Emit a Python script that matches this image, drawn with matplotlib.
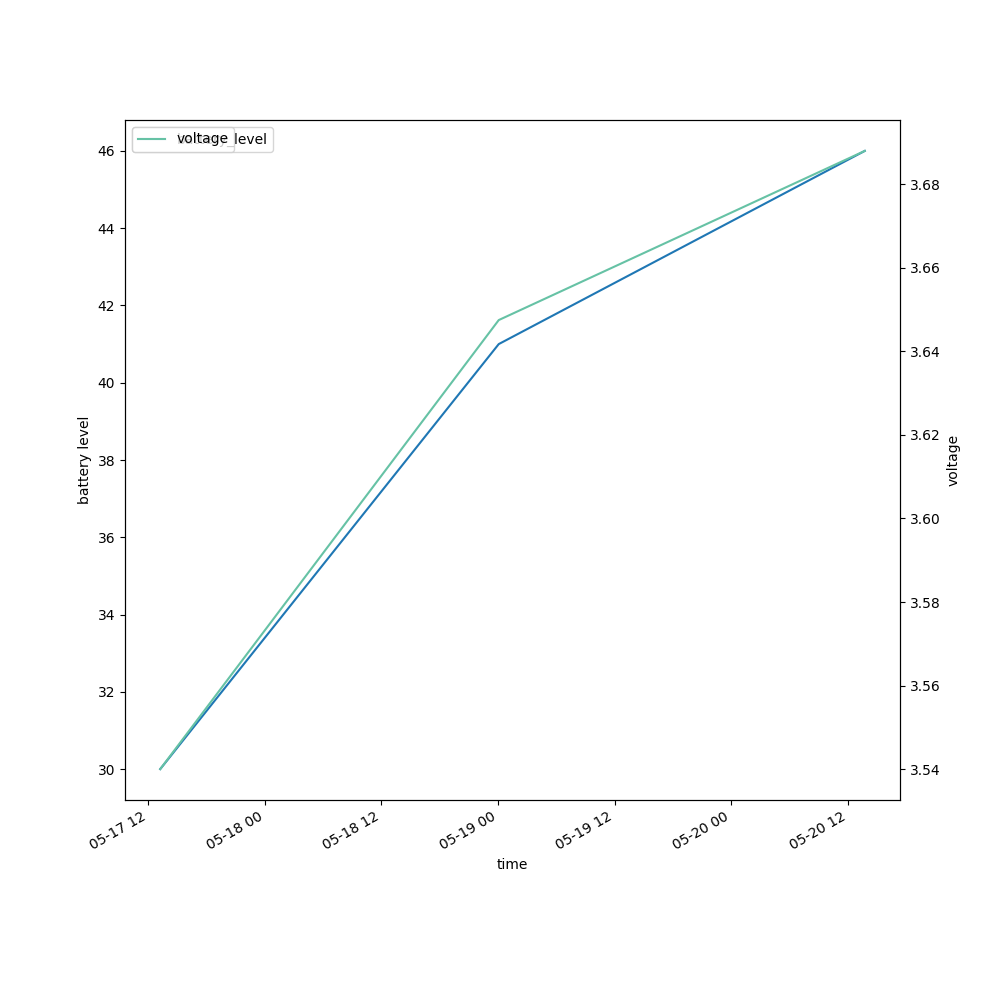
import pandas as pd
import matplotlib
matplotlib.use('Agg')
import matplotlib.pyplot as plt

time = pd.to_datetime(['2023-05-17 13:15', '2023-05-19 00:05', '2023-05-20 13:45'])
battery_level = [30, 41, 46]
voltage = [3.540, 3.6475, 3.688]

fig, ax = plt.subplots(figsize=(10, 10), dpi=100)
ax.plot(time, battery_level, color='tab:blue', label='battery_level')
ax.set_xlabel('time')
ax.set_ylabel('battery level')
ax.legend(loc='upper left')

ax2 = ax.twinx()
ax2.plot(time, voltage, color='#66c2a5', label='voltage')
ax2.set_ylabel('voltage')
ax2.legend(loc='upper left')

fig.autofmt_xdate()
fig.savefig('out.png')
